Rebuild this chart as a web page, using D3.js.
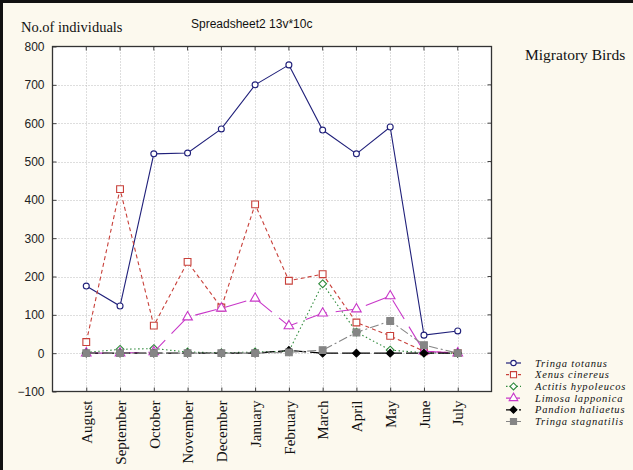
<!DOCTYPE html>
<html><head><meta charset="utf-8">
<script src="https://cdn.jsdelivr.net/npm/d3@7"></script>
<style>
html,body{margin:0;padding:0;background:#fcf9ee;}
svg{display:block;}
</style></head>
<body>
<svg id="chart" width="633" height="470"></svg>
<script>
const months = ["August","September","October","November","December","January","February","March","April","May","June","July"];
const yTicks = [-100,0,100,200,300,400,500,600,700,800];
const seriesNames = ["Tringa totanus","Xenus cinereus","Actitis hypoleucos","Limosa lapponica","Pandion haliaetus","Tringa stagnatilis"];
const tringaTotanus    = [175,123,520,522,585,700,752,582,520,590,47,58];
const xenusCinereus    = [29,428,72,238,119,388,189,206,80,45,5,0];
const actitisHypoleucos= [2,10,12,3,1,3,5,181,55,8,1,0];
const limosaLapponica  = [0,0,3,94,117,143,71,104,115,149,5,0];
const pandionHaliaetus = [0,0,0,0,0,0,7,0,0,0,0,0];
const tringaStagnatilis= [0,0,0,0,0,0,2,8,54,84,21,0];

const seriesValues = [tringaTotanus,xenusCinereus,actitisHypoleucos,limosaLapponica,pandionHaliaetus,tringaStagnatilis];
const styles = [
  {color:"#20207a", dash:null, legendDash:null, marker:"circle", fill:"#fff", size:28},
  {color:"#c8403a", dash:"4,3", legendDash:"3,3", marker:"square", fill:"#fff", size:46},
  {color:"#2f8a3c", dash:"1.5,2.5", legendDash:"1.5,2", marker:"diamond", fill:"#fff", size:30},
  {color:"#c837c8", dash:"22,9", legendDash:"6,2", marker:"triangle", fill:"#fff", size:40},
  {color:"#000000", dash:"12,4", legendDash:"6,2,3,2", marker:"diamond", fill:"#000", size:30},
  {color:"#858585", dash:"9,3,2,3", legendDash:"5,2,2,2", marker:"square", fill:"#858585", size:46}
];
const diamondSym = {draw(ctx,size){const r=Math.sqrt(size/2);ctx.moveTo(0,-r);ctx.lineTo(r,0);ctx.lineTo(0,r);ctx.lineTo(-r,0);ctx.closePath();}};
const symTypes = {circle:d3.symbolCircle, square:d3.symbolSquare, diamond:diamondSym, triangle:d3.symbolTriangle};

const svg = d3.select("#chart");
const L=52.5, R=491.5, T=46.5, B=391.5;
const x = d3.scalePoint().domain(months).range([L,R]).padding(1);
const y = d3.scaleLinear().domain([-100,800]).range([B,T]);

svg.append("rect").attr("x",0).attr("y",0).attr("width",633).attr("height",470).attr("fill","#fcf9ee");
svg.append("rect").attr("x",0).attr("y",0).attr("width",633).attr("height",3).attr("fill","#111");
svg.append("rect").attr("x",0).attr("y",0).attr("width",3).attr("height",470).attr("fill","#111");

svg.append("rect").attr("x",L).attr("y",T).attr("width",R-L).attr("height",B-T).attr("fill","#fff");

const grid = svg.append("g").attr("stroke","#bdbdbd").attr("stroke-width",1).attr("stroke-dasharray","1,2");
grid.selectAll("line.v").data(months).join("line")
  .attr("x1",d=>Math.round(x(d))+0.5).attr("x2",d=>Math.round(x(d))+0.5).attr("y1",T).attr("y2",B);
grid.selectAll("line.h").data(yTicks.slice(1,-1)).join("line")
  .attr("y1",d=>Math.round(y(d))+0.5).attr("y2",d=>Math.round(y(d))+0.5).attr("x1",L).attr("x2",R);

const yAxis = d3.axisLeft(y).tickValues(yTicks).tickSize(-4).tickPadding(8);
const gy = svg.append("g").attr("transform",`translate(${L},0)`).call(yAxis);
gy.select(".domain").remove();
gy.selectAll("line").attr("stroke","#444");
gy.selectAll("text").attr("font-family","'Liberation Sans', Arial, sans-serif").attr("font-size","12px").attr("fill","#222");

const xAxis = d3.axisBottom(x).tickSize(-4).tickPadding(0);
const gx = svg.append("g").attr("transform",`translate(0,${B})`).call(xAxis);
gx.select(".domain").remove();
gx.selectAll("line").attr("stroke","#444");
gx.selectAll("text")
  .attr("font-family","'Liberation Serif','Times New Roman',serif").attr("font-size","15px").attr("fill","#111")
  .attr("transform","rotate(-90)").attr("text-anchor","end").attr("dy","0.35em").attr("x",-9).attr("y",0);

svg.append("g").selectAll("line").data(months).join("line")
  .attr("x1",d=>x(d)).attr("x2",d=>x(d)).attr("y1",T).attr("y2",T+4).attr("stroke","#444");
svg.append("g").selectAll("line").data(yTicks).join("line")
  .attr("x1",R).attr("x2",R-4).attr("y1",d=>y(d)).attr("y2",d=>y(d)).attr("stroke","#444");

svg.append("rect").attr("x",L).attr("y",T).attr("width",R-L).attr("height",B-T)
  .attr("fill","none").attr("stroke","#333").attr("stroke-width",1.3);

const line = d3.line().x((d,i)=>x(months[i])).y(d=>y(d));
seriesValues.forEach((vals,si)=>{
  const st = styles[si];
  svg.append("path").datum(vals).attr("d",line).attr("fill","none")
    .attr("stroke",st.color).attr("stroke-width",1.1)
    .attr("stroke-dasharray",st.dash);
  svg.append("g").selectAll("path").data(vals).join("path")
    .attr("d",d3.symbol().type(symTypes[st.marker]).size(st.size))
    .attr("transform",(d,i)=>`translate(${x(months[i])},${y(d)})`)
    .attr("fill",st.fill).attr("stroke",st.color).attr("stroke-width",1.1);
});

svg.append("text").attr("x",21).attr("y",32).text("No.of individuals")
  .attr("font-family","'Liberation Serif','Times New Roman',serif").attr("font-size","14.5px").attr("fill","#111");
svg.append("text").attr("x",191).attr("y",28).text("Spreadsheet2 13v*10c")
  .attr("font-family","'Liberation Sans', Arial, sans-serif").attr("font-size","12px").attr("fill","#111");
svg.append("text").attr("x",525).attr("y",60).text("Migratory Birds")
  .attr("font-family","'Liberation Serif','Times New Roman',serif").attr("font-size","15.5px").attr("fill","#111");

const lg = svg.append("g");
seriesNames.forEach((name,i)=>{
  const st = styles[i];
  const cy = 363 + i*11.7;
  lg.append("line").attr("x1",506).attr("x2",521).attr("y1",cy).attr("y2",cy)
    .attr("stroke",st.color).attr("stroke-width",1.2)
    .attr("stroke-dasharray", st.legendDash);
  lg.append("path").attr("d",d3.symbol().type(symTypes[st.marker]).size(st.size*0.8))
    .attr("transform",`translate(513.5,${cy})`).attr("fill",st.fill).attr("stroke",st.color).attr("stroke-width",1.1);
  lg.append("text").attr("x",535).attr("y",cy+3.5).text(name)
    .attr("font-family","'Liberation Serif','Times New Roman',serif").attr("font-style","italic")
    .attr("font-size","10.5px").attr("letter-spacing","0.8px").attr("fill","#111");
});
</script>
</body></html>
